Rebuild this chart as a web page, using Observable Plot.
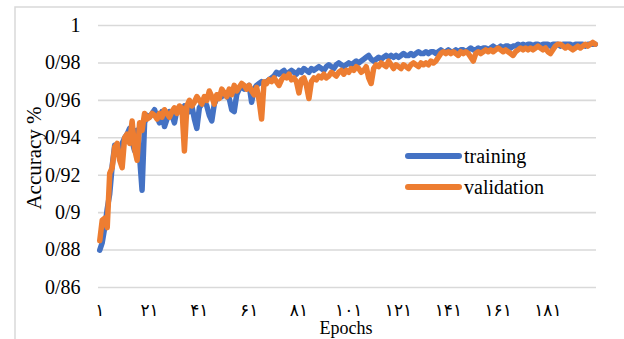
<!DOCTYPE html>
<html>
<head>
<meta charset="utf-8">
<script src="https://cdn.jsdelivr.net/npm/d3@7"></script>
<script src="https://cdn.jsdelivr.net/npm/@observablehq/plot@0.6"></script>
<style>
  html, body { margin: 0; padding: 0; background: #fff; }
  #chart { width: 624px; height: 339px; }
</style>
</head>
<body>
<div id="chart"></div>
<script>
const yTicks = [0.86, 0.88, 0.9, 0.92, 0.94, 0.96, 0.98, 1];
const yTickLabels = ["0/86", "0/88", "0/9", "0/92", "0/94", "0/96", "0/98", "1"];
const xTicks = [1, 21, 41, 61, 81, 101, 121, 141, 161, 181];
const xTickLabels = ["۱", "۲۱", "۴۱", "۶۱", "۸۱", "۱۰۱", "۱۲۱", "۱۴۱", "۱۶۱", "۱۸۱"];
const seriesNames = ["training", "validation"];
const seriesColors = ["#4472C4", "#ED7D31"];

const training = [
  0.880, 0.884, 0.892, 0.902, 0.910, 0.925, 0.936, 0.934, 0.930, 0.937,
  0.940, 0.942, 0.945, 0.938, 0.933, 0.944, 0.930, 0.912, 0.948, 0.952,
  0.951, 0.953, 0.955, 0.951, 0.948, 0.954, 0.946, 0.950, 0.954, 0.952,
  0.948, 0.955, 0.956, 0.955, 0.957, 0.955, 0.954, 0.957, 0.950, 0.945,
  0.956, 0.958, 0.960, 0.957, 0.952, 0.949, 0.958, 0.961, 0.963, 0.962,
  0.964, 0.962, 0.961, 0.955, 0.954, 0.963, 0.966, 0.967, 0.966, 0.967,
  0.968, 0.959, 0.966, 0.968, 0.969, 0.970, 0.969, 0.970, 0.971, 0.972,
  0.973, 0.975, 0.974, 0.975, 0.976, 0.974, 0.975, 0.976, 0.975, 0.974,
  0.976, 0.975, 0.977, 0.976, 0.975, 0.977, 0.976, 0.977, 0.978, 0.977,
  0.976, 0.978, 0.979, 0.978, 0.977, 0.979, 0.980, 0.979, 0.978, 0.979,
  0.980, 0.979, 0.980, 0.981, 0.980, 0.981, 0.982, 0.983, 0.984, 0.982,
  0.981, 0.982, 0.983, 0.982, 0.983, 0.984, 0.983, 0.984, 0.983, 0.984,
  0.983, 0.984, 0.985, 0.984, 0.984, 0.985, 0.984, 0.985, 0.986, 0.985,
  0.985, 0.986, 0.985, 0.986, 0.986, 0.985, 0.986, 0.987, 0.986, 0.986,
  0.987, 0.986, 0.986, 0.987, 0.986, 0.987, 0.987, 0.986, 0.987, 0.988,
  0.987, 0.987, 0.988, 0.987, 0.988, 0.988, 0.987, 0.988, 0.989, 0.988,
  0.988, 0.989, 0.988, 0.989, 0.989, 0.988, 0.989, 0.989, 0.990, 0.989,
  0.990, 0.989, 0.990, 0.990, 0.989, 0.990, 0.990, 0.989, 0.990, 0.990,
  0.990, 0.989, 0.990, 0.990, 0.990, 0.989, 0.990, 0.990, 0.990, 0.990,
  0.989, 0.990, 0.990, 0.990, 0.990, 0.989, 0.990, 0.990, 0.990, 0.990
];

const validation = [
  0.885, 0.896, 0.897, 0.892, 0.921, 0.924, 0.935, 0.937, 0.928, 0.924,
  0.940, 0.942, 0.937, 0.949, 0.934, 0.928, 0.948, 0.944, 0.953, 0.950,
  0.951, 0.953, 0.952, 0.950, 0.953, 0.951, 0.955, 0.953, 0.951, 0.954,
  0.956, 0.953, 0.957, 0.956, 0.933, 0.957, 0.960, 0.957, 0.959, 0.962,
  0.960, 0.958, 0.962, 0.960, 0.965, 0.962, 0.958, 0.963, 0.961, 0.966,
  0.964, 0.962, 0.966, 0.963, 0.968, 0.965, 0.967, 0.969, 0.968, 0.966,
  0.968, 0.965, 0.963, 0.967, 0.960, 0.950, 0.970, 0.969, 0.971, 0.970,
  0.972, 0.970, 0.968, 0.971, 0.973, 0.972, 0.974, 0.971, 0.972, 0.970,
  0.964, 0.971, 0.972, 0.968, 0.961, 0.970, 0.972, 0.971, 0.973, 0.972,
  0.974, 0.972, 0.973, 0.975, 0.974, 0.973, 0.975, 0.976, 0.974, 0.976,
  0.975, 0.977, 0.976, 0.978, 0.977, 0.975, 0.976, 0.978, 0.972, 0.969,
  0.977, 0.979, 0.978, 0.980, 0.979, 0.978, 0.981, 0.979, 0.977, 0.979,
  0.978, 0.977, 0.979, 0.978, 0.977, 0.979, 0.980, 0.979, 0.978, 0.980,
  0.979, 0.980, 0.979, 0.981, 0.980, 0.981, 0.983, 0.985, 0.986, 0.985,
  0.986, 0.985, 0.986, 0.985, 0.984, 0.986, 0.985, 0.986, 0.985, 0.983,
  0.981, 0.985, 0.986, 0.985, 0.986, 0.987, 0.986, 0.987, 0.986, 0.987,
  0.988, 0.987, 0.986, 0.987, 0.986, 0.985, 0.984, 0.986, 0.987, 0.988,
  0.987, 0.988, 0.987, 0.988, 0.987, 0.988, 0.989, 0.988, 0.987, 0.988,
  0.986, 0.985, 0.987, 0.989, 0.990, 0.990, 0.989, 0.988, 0.989, 0.988,
  0.987, 0.988, 0.989, 0.988, 0.989, 0.990, 0.989, 0.990, 0.991, 0.990
];

const trainRows = training.map((v, i) => ({epoch: i + 1, value: v}));
const valRows = validation.map((v, i) => ({epoch: i + 1, value: v}));

const FONT = '"Liberation Serif", "Times New Roman", "DejaVu Sans", serif';

const chart = Plot.plot({
  width: 624,
  height: 339,
  marginLeft: 98,
  marginRight: 28,
  marginTop: 25,
  marginBottom: 52,
  style: {fontFamily: FONT, background: "#fff", color: "#000", overflow: "visible"},
  x: {domain: [0.5, 200.5]},
  y: {domain: [0.86, 1]},
  marks: [
    Plot.ruleY(yTicks, {stroke: "#d9d9d9", strokeWidth: 1.6}),
    Plot.axisY(yTicks, {tickSize: 0, tickPadding: 18, fontSize: 20, label: null,
      tickFormat: (d, i) => yTickLabels[i]}),
    Plot.axisX(xTicks, {tickSize: 0, tickPadding: 16, fontSize: 17, label: null,
      tickFormat: (d, i) => xTickLabels[i]}),
    Plot.line(trainRows, {x: "epoch", y: "value", stroke: seriesColors[0], strokeWidth: 5.5,
      strokeLinejoin: "round", strokeLinecap: "round"}),
    Plot.line(valRows, {x: "epoch", y: "value", stroke: seriesColors[1], strokeWidth: 5.5,
      strokeLinejoin: "round", strokeLinecap: "round"})
  ]
});

const svg = d3.select(chart);
// outer chart border
svg.insert("path", ":first-child")
  .attr("d", "M15,339 L15,7 L624,7")
  .attr("fill", "none").attr("stroke", "#d9d9d9").attr("stroke-width", 1.5);

// axis titles
svg.append("text")
  .attr("transform", "translate(41,158) rotate(-90)")
  .attr("text-anchor", "middle")
  .attr("font-family", FONT).attr("font-size", 21)
  .text("Accuracy %");
svg.append("text")
  .attr("x", 346).attr("y", 334)
  .attr("text-anchor", "middle")
  .attr("font-family", FONT).attr("font-size", 18)
  .text("Epochs");

// legend
const legendY = [156, 187];
seriesNames.forEach((name, i) => {
  svg.append("line")
    .attr("x1", 408).attr("x2", 459)
    .attr("y1", legendY[i]).attr("y2", legendY[i])
    .attr("stroke", seriesColors[i]).attr("stroke-width", 6)
    .attr("stroke-linecap", "round");
  svg.append("text")
    .attr("x", 464).attr("y", legendY[i])
    .attr("dy", "0.33em")
    .attr("text-anchor", "start")
    .attr("font-family", FONT).attr("font-size", 20)
    .text(name);
});

document.getElementById("chart").appendChild(chart);
</script>
</body>
</html>
